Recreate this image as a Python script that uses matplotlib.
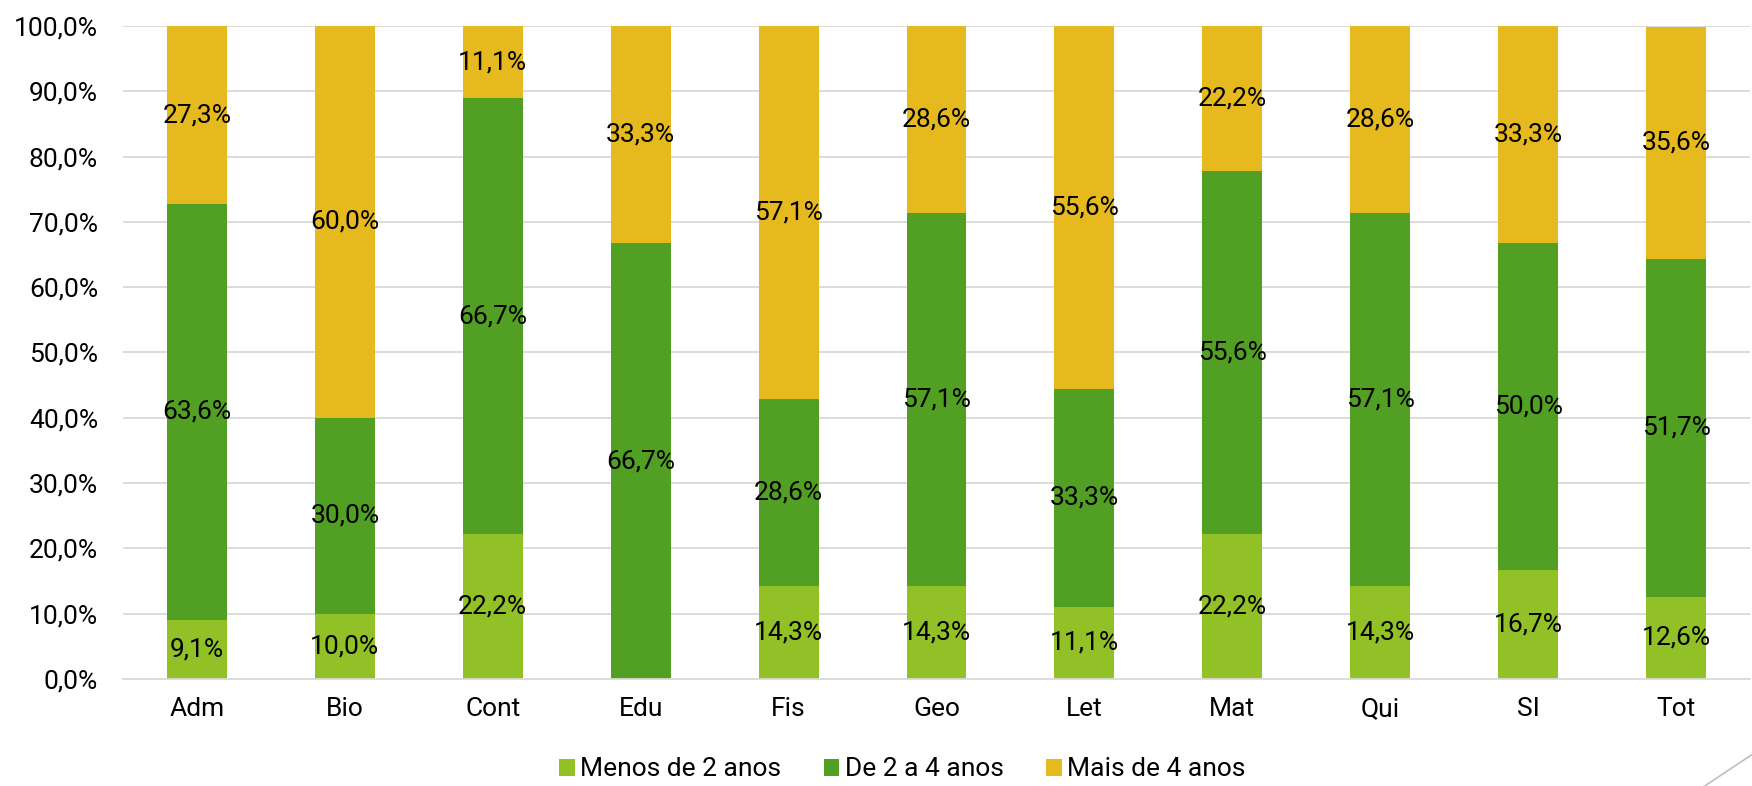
import matplotlib.pyplot as plt
import numpy as np
from matplotlib.lines import Line2D

plt.rcParams['font.family'] = ['Roboto', 'DejaVu Sans']

categories = ["Adm", "Bio", "Cont", "Edu", "Fis", "Geo", "Let", "Mat", "Qui", "SI", "Tot"]
menos_2 = [9.1, 10.0, 22.2, 0.0, 14.3, 14.3, 11.1, 22.2, 14.3, 16.7, 12.6]
de_2_a_4 = [63.6, 30.0, 66.7, 66.7, 28.6, 57.1, 33.3, 55.6, 57.1, 50.0, 51.7]
mais_4 = [27.3, 60.0, 11.1, 33.3, 57.1, 28.6, 55.6, 22.2, 28.6, 33.3, 35.6]
series_names = ["Menos de 2 anos", "De 2 a 4 anos", "Mais de 4 anos"]
colors = ["#92C127", "#52A023", "#E6B91E"]


def fmt(v):
    return f"{v:.1f}".replace(".", ",") + "%"


fig = plt.figure(figsize=(17.52, 7.86), dpi=100)
ax = fig.add_axes([0.0702, 0.1361, 0.9287, 0.8309])

x = np.arange(len(categories))
bottom = np.zeros(len(categories))
for vals, name, c in zip([menos_2, de_2_a_4, mais_4], series_names, colors):
    vals = np.array(vals)
    ax.bar(x, vals, 0.405, bottom=bottom, color=c, label=name, zorder=2)
    for xi, b, v in zip(x, bottom, vals):
        if v > 0:
            ax.text(xi, b + v / 2, fmt(v), ha="center", va="center",
                    fontsize=19, color="black", zorder=3)
    bottom += vals

ax.set_xlim(-0.5, len(categories) - 0.5)
ax.set_ylim(0, 100)
ax.set_yticks(np.arange(0, 101, 10))
ax.set_yticklabels([fmt(v) for v in np.arange(0, 101, 10)])
ax.set_xticks(x)
ax.set_xticklabels(categories)
ax.tick_params(axis="both", length=0, labelsize=19)
ax.tick_params(axis="y", pad=18)
ax.tick_params(axis="x", pad=13)
ax.grid(axis="y", color="#D9D9D9", linewidth=1.3, zorder=0)
for s in ["top", "right", "left"]:
    ax.spines[s].set_visible(False)
ax.spines["bottom"].set_color("#D9D9D9")
ax.spines["bottom"].set_linewidth(1.3)

fig.legend(loc="center", bbox_to_anchor=(0.515, 0.021), ncol=3, frameon=False,
           fontsize=19, handlelength=0.6, handleheight=0.6, handletextpad=0.2,
           columnspacing=1.6)

# decorative corner line
fig.add_artist(Line2D([0.973, 1.0], [0.0, 0.04], transform=fig.transFigure,
                      color="#BFBFBF", linewidth=1.2))

fig.savefig("out.png", dpi=100)
